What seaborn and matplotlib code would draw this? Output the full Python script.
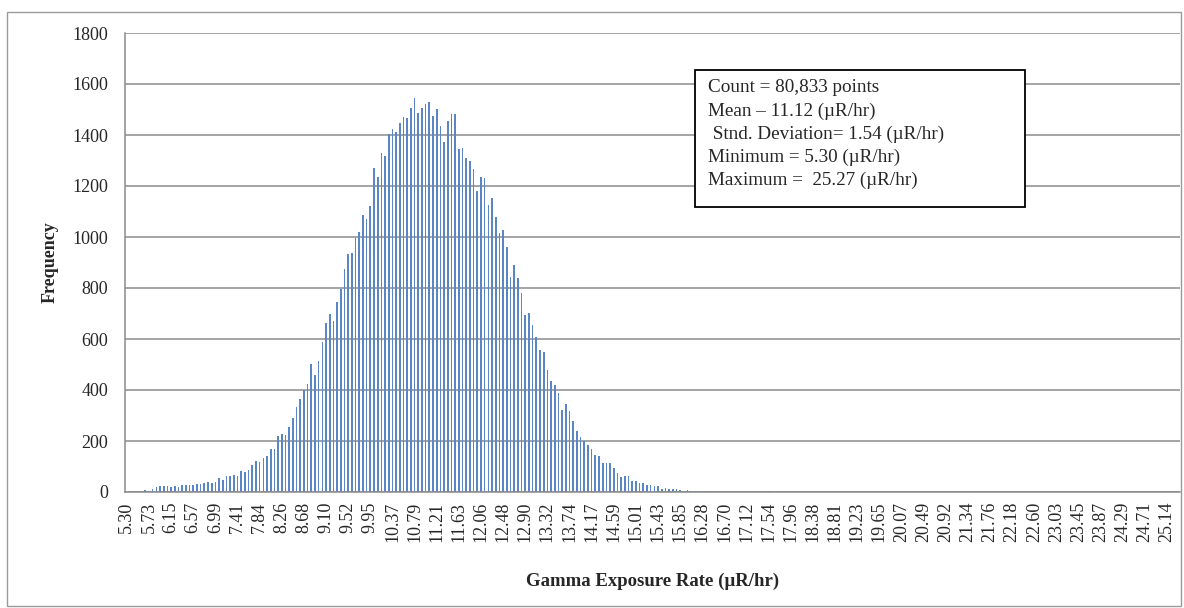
import numpy as np
import pandas as pd
import matplotlib
matplotlib.use("Agg")
import matplotlib.pyplot as plt
import seaborn as sns
from matplotlib.patches import Rectangle

# ---- data ----
freq_low = [1, 0, 1, 1,
            5, 6, 3, 10, 20, 22, 25, 25, 21, 25, 18, 26, 26, 27, 29, 30, 32, 34, 38, 35, 40,
            56, 47, 62, 61, 66, 61, 83, 79, 87, 107, 122]
freq_rise = [119, 132, 141, 170, 170, 221, 227, 222, 256, 289, 332, 363, 400, 423, 502, 460,
             515, 587, 661, 700, 672, 746, 797, 874, 933, 938, 995, 1021, 1086, 1069, 1121]
freq_peak = [1270, 1234, 1331, 1318, 1403, 1424, 1413, 1446, 1472, 1465, 1507, 1546, 1488,
             1506, 1522, 1528, 1475, 1501, 1435, 1374, 1455, 1484, 1484, 1344, 1349, 1310,
             1297, 1268, 1182, 1237, 1230, 1126, 1152, 1080]
freq_fall = [1016, 1028, 961, 845, 891, 839, 780, 695, 702, 656, 608, 555, 548, 480, 435, 420,
             388, 323, 346, 316, 278, 238, 216, 200, 186, 170, 145, 142, 115, 115, 115, 94, 75,
             59, 63, 63, 44, 44, 37, 37, 27, 26, 22, 22, 13, 14, 12, 12, 10, 9, 5]
freq_tail = [6, 4, 4, 3, 3, 2, 2, 1, 2, 1, 1, 1, 0, 1,
             1, 0, 1, 0, 0, 1, 0, 1, 2, 0, 1, 0, 0, 1, 0, 0, 1, 0, 0, 0,
             1, 0, 0, 1, 0, 0, 0, 1, 0, 0, 0, 0, 1, 0, 0, 0, 0, 1, 0, 0,
             0, 0, 1, 0, 0, 0, 0, 0, 1, 0, 0, 0, 0, 0, 0, 1, 0, 0, 0, 0,
             0, 1, 0, 0, 0, 0, 0, 0, 0, 1, 0, 0, 0, 0, 0, 0, 0, 0, 0, 1,
             0, 0, 0, 0, 0, 0, 0, 0, 0, 0, 1, 0, 0, 0, 0, 0, 0, 0, 0, 0,
             0, 0, 0, 0, 0, 0, 0, 0, 0, 0, 0, 0, 0, 0, 0, 0, 0, 0, 1, 0]
freq = freq_low + freq_rise + freq_peak + freq_fall + freq_tail

tick_labels = ["5.30", "5.73", "6.15", "6.57", "6.99", "7.41", "7.84", "8.26", "8.68", "9.10",
               "9.52", "9.95", "10.37", "10.79", "11.21", "11.63", "12.06", "12.48", "12.90",
               "13.32", "13.74", "14.17", "14.59", "15.01", "15.43", "15.85", "16.28", "16.70",
               "17.12", "17.54", "17.96", "18.38", "18.81", "19.23", "19.65", "20.07", "20.49",
               "20.92", "21.34", "21.76", "22.18", "22.60", "23.03", "23.45", "23.87", "24.29",
               "24.71", "25.14"]
yticks = [0, 200, 400, 600, 800, 1000, 1200, 1400, 1600, 1800]
stats_lines = ["Count = 80,833 points",
               "Mean \u2013 11.12 (\u00b5R/hr)",
               " Stnd. Deviation= 1.54 (\u00b5R/hr)",
               "Minimum = 5.30 (\u00b5R/hr)",
               "Maximum =  25.27 (\u00b5R/hr)"]

# ---- plotting ----
sns.set_style("white")
plt.rcParams['font.family'] = ['Liberation Serif', 'DejaVu Serif']

W, H = 1184, 608
fig = plt.figure(figsize=(W / 100, H / 100), dpi=100)
ax = fig.add_axes([125 / W, 1 - 492 / H, (1180 - 125) / W, (492 - 33) / H])

n = len(freq)
df = pd.DataFrame({"bin": np.arange(n), "freq": freq})
sns.barplot(data=df, x="bin", y="freq", color="#5B86C5", saturation=1, width=0.45,
            ax=ax, linewidth=0)

ax.set_xlim(-0.5, n - 0.5)
ax.set_ylim(0, 1800)
ax.set_yticks(yticks)
ax.set_yticklabels([str(v) for v in yticks], fontsize=13)
ax.set_xticks(np.arange(0, 6 * len(tick_labels), 6))
ax.set_xticklabels(tick_labels, rotation=90, fontsize=13)
ax.set_xticks(np.arange(n) - 0.5, minor=True)
ax.tick_params(axis="x", which="both", length=4, color="#8a8a8a", width=0.8, direction="out",
               pad=3)
ax.tick_params(axis="y", length=6, color="#8a8a8a", width=0.8, direction="out", pad=6)
ax.yaxis.grid(True, color="#8c8c8c", linewidth=1.1)
ax.set_axisbelow(True)
for s in ["top", "right"]:
    ax.spines[s].set_visible(False)
for s in ["left", "bottom"]:
    ax.spines[s].set_color("#8a8a8a")
    ax.spines[s].set_linewidth(1.1)

ax.set_xlabel("Gamma Exposure Rate (\u00b5R/hr)", fontsize=13.5, fontweight="bold")
ax.xaxis.set_label_coords(0.5, -0.175)
ax.set_ylabel("Frequency", fontsize=13, fontweight="bold")
ax.yaxis.set_label_coords(-0.063, 0.5)

# stats box
box_l, box_t, box_r, box_b = 695, 70, 1025, 207
fig.patches.append(Rectangle((box_l / W, 1 - box_b / H), (box_r - box_l) / W,
                             (box_b - box_t) / H, transform=fig.transFigure,
                             facecolor="white", edgecolor="black", linewidth=1.3, zorder=5))
for k, line in enumerate(stats_lines):
    fig.text(708 / W, 1 - (88 + k * 23.2) / H, line, fontsize=13.8, va="center", ha="left",
             zorder=6)

# outer chart border
fig.patches.append(Rectangle((7 / W, 1 - 606 / H), (1181 - 7) / W, (606 - 12) / H,
                             transform=fig.transFigure, facecolor="none", edgecolor="#9a9a9a",
                             linewidth=1.0, zorder=0))

fig.savefig("out.png", dpi=100)
